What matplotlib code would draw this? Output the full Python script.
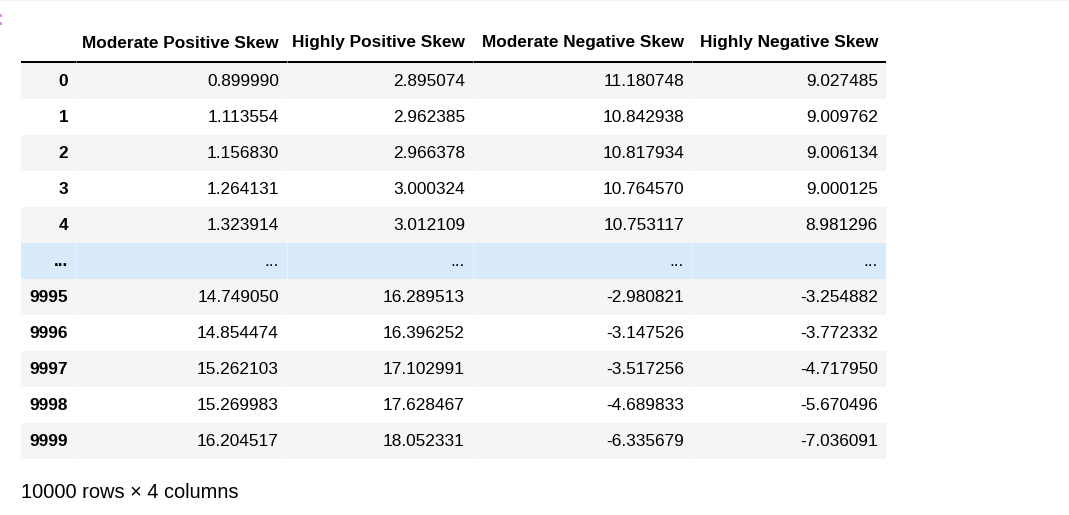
import matplotlib
matplotlib.use("Agg")
import matplotlib.pyplot as plt
from matplotlib.patches import Rectangle

# table content
columns = ['Moderate Positive Skew', 'Highly Positive Skew',
           'Moderate Negative Skew', 'Highly Negative Skew']
index_labels = ['0', '1', '2', '3', '4', '...', '9995', '9996', '9997', '9998', '9999']
col_moderate_pos = ['0.899990', '1.113554', '1.156830', '1.264131', '1.323914', '...',
                    '14.749050', '14.854474', '15.262103', '15.269983', '16.204517']
col_highly_pos = ['2.895074', '2.962385', '2.966378', '3.000324', '3.012109', '...',
                  '16.289513', '16.396252', '17.102991', '17.628467', '18.052331']
col_moderate_neg = ['11.180748', '10.842938', '10.817934', '10.764570', '10.753117', '...',
                    '-2.980821', '-3.147526', '-3.517256', '-4.689833', '-6.335679']
col_highly_neg = ['9.027485', '9.009762', '9.006134', '9.000125', '8.981296', '...',
                  '-3.254882', '-3.772332', '-4.717950', '-5.670496', '-7.036091']
footer = '10000 rows × 4 columns'

# layout in pixels
W, H = 1069, 515
edges = [21, 76, 287, 473, 692, 886]   # index col + 4 data cols
row_top = 63
row_h = 36
pad = 8
fs_cell = 12.4
fs_foot = 14.4
stripe = '#f5f5f5'
hover = '#d9eafa'

plt.rcParams['font.family'] = ['Liberation Sans', 'DejaVu Sans']

fig = plt.figure(figsize=(W / 100, H / 100), dpi=100)
ax = fig.add_axes([0, 0, 1, 1])
ax.set_xlim(0, W)
ax.set_ylim(H, 0)
ax.axis('off')

# faint notebook border at the very top + pink prompt dots
ax.add_patch(Rectangle((0, 0), W, 1, color='#f4f4f4', lw=0))
ax.add_patch(Rectangle((0, 14), 2, 3, color='#d88fe0', lw=0))
ax.add_patch(Rectangle((0, 22), 2, 3, color='#d88fe0', lw=0))

# header
for j, name in enumerate(columns):
    ax.text(edges[j + 2] - pad, 43, name, ha='right', va='center',
            fontsize=fs_cell, fontweight='bold', color='black')
ax.add_patch(Rectangle((edges[0], 61), edges[-1] - edges[0], 2, color='black', lw=0))
for x in edges[1:-1]:
    ax.add_patch(Rectangle((x, 61), 1, 2, color='#777777', lw=0))

data_cols = [col_moderate_pos, col_highly_pos, col_moderate_neg, col_highly_neg]
for i, lab in enumerate(index_labels):
    y0 = row_top + i * row_h
    if lab == '...':
        bg = hover
    elif i % 2 == 0:
        bg = stripe
    else:
        bg = None
    if bg:
        ax.add_patch(Rectangle((edges[0], y0), edges[-1] - edges[0], row_h, color=bg, lw=0))
        # thin white seams between cells
        for x in edges[1:-1]:
            ax.add_patch(Rectangle((x, y0), 1, row_h, color='white', alpha=0.4, lw=0))
    yc = y0 + row_h / 2 + 0.5
    ax.text(edges[1] - pad, yc, lab, ha='right', va='center',
            fontsize=fs_cell, fontweight='bold', color='black')
    for j, col in enumerate(data_cols):
        ax.text(edges[j + 2] - pad, yc, col[i], ha='right', va='center',
                fontsize=fs_cell, color='black')

ax.text(21, 492, footer, ha='left', va='center', fontsize=fs_foot, color='black')

fig.savefig('out.png', dpi=100)
